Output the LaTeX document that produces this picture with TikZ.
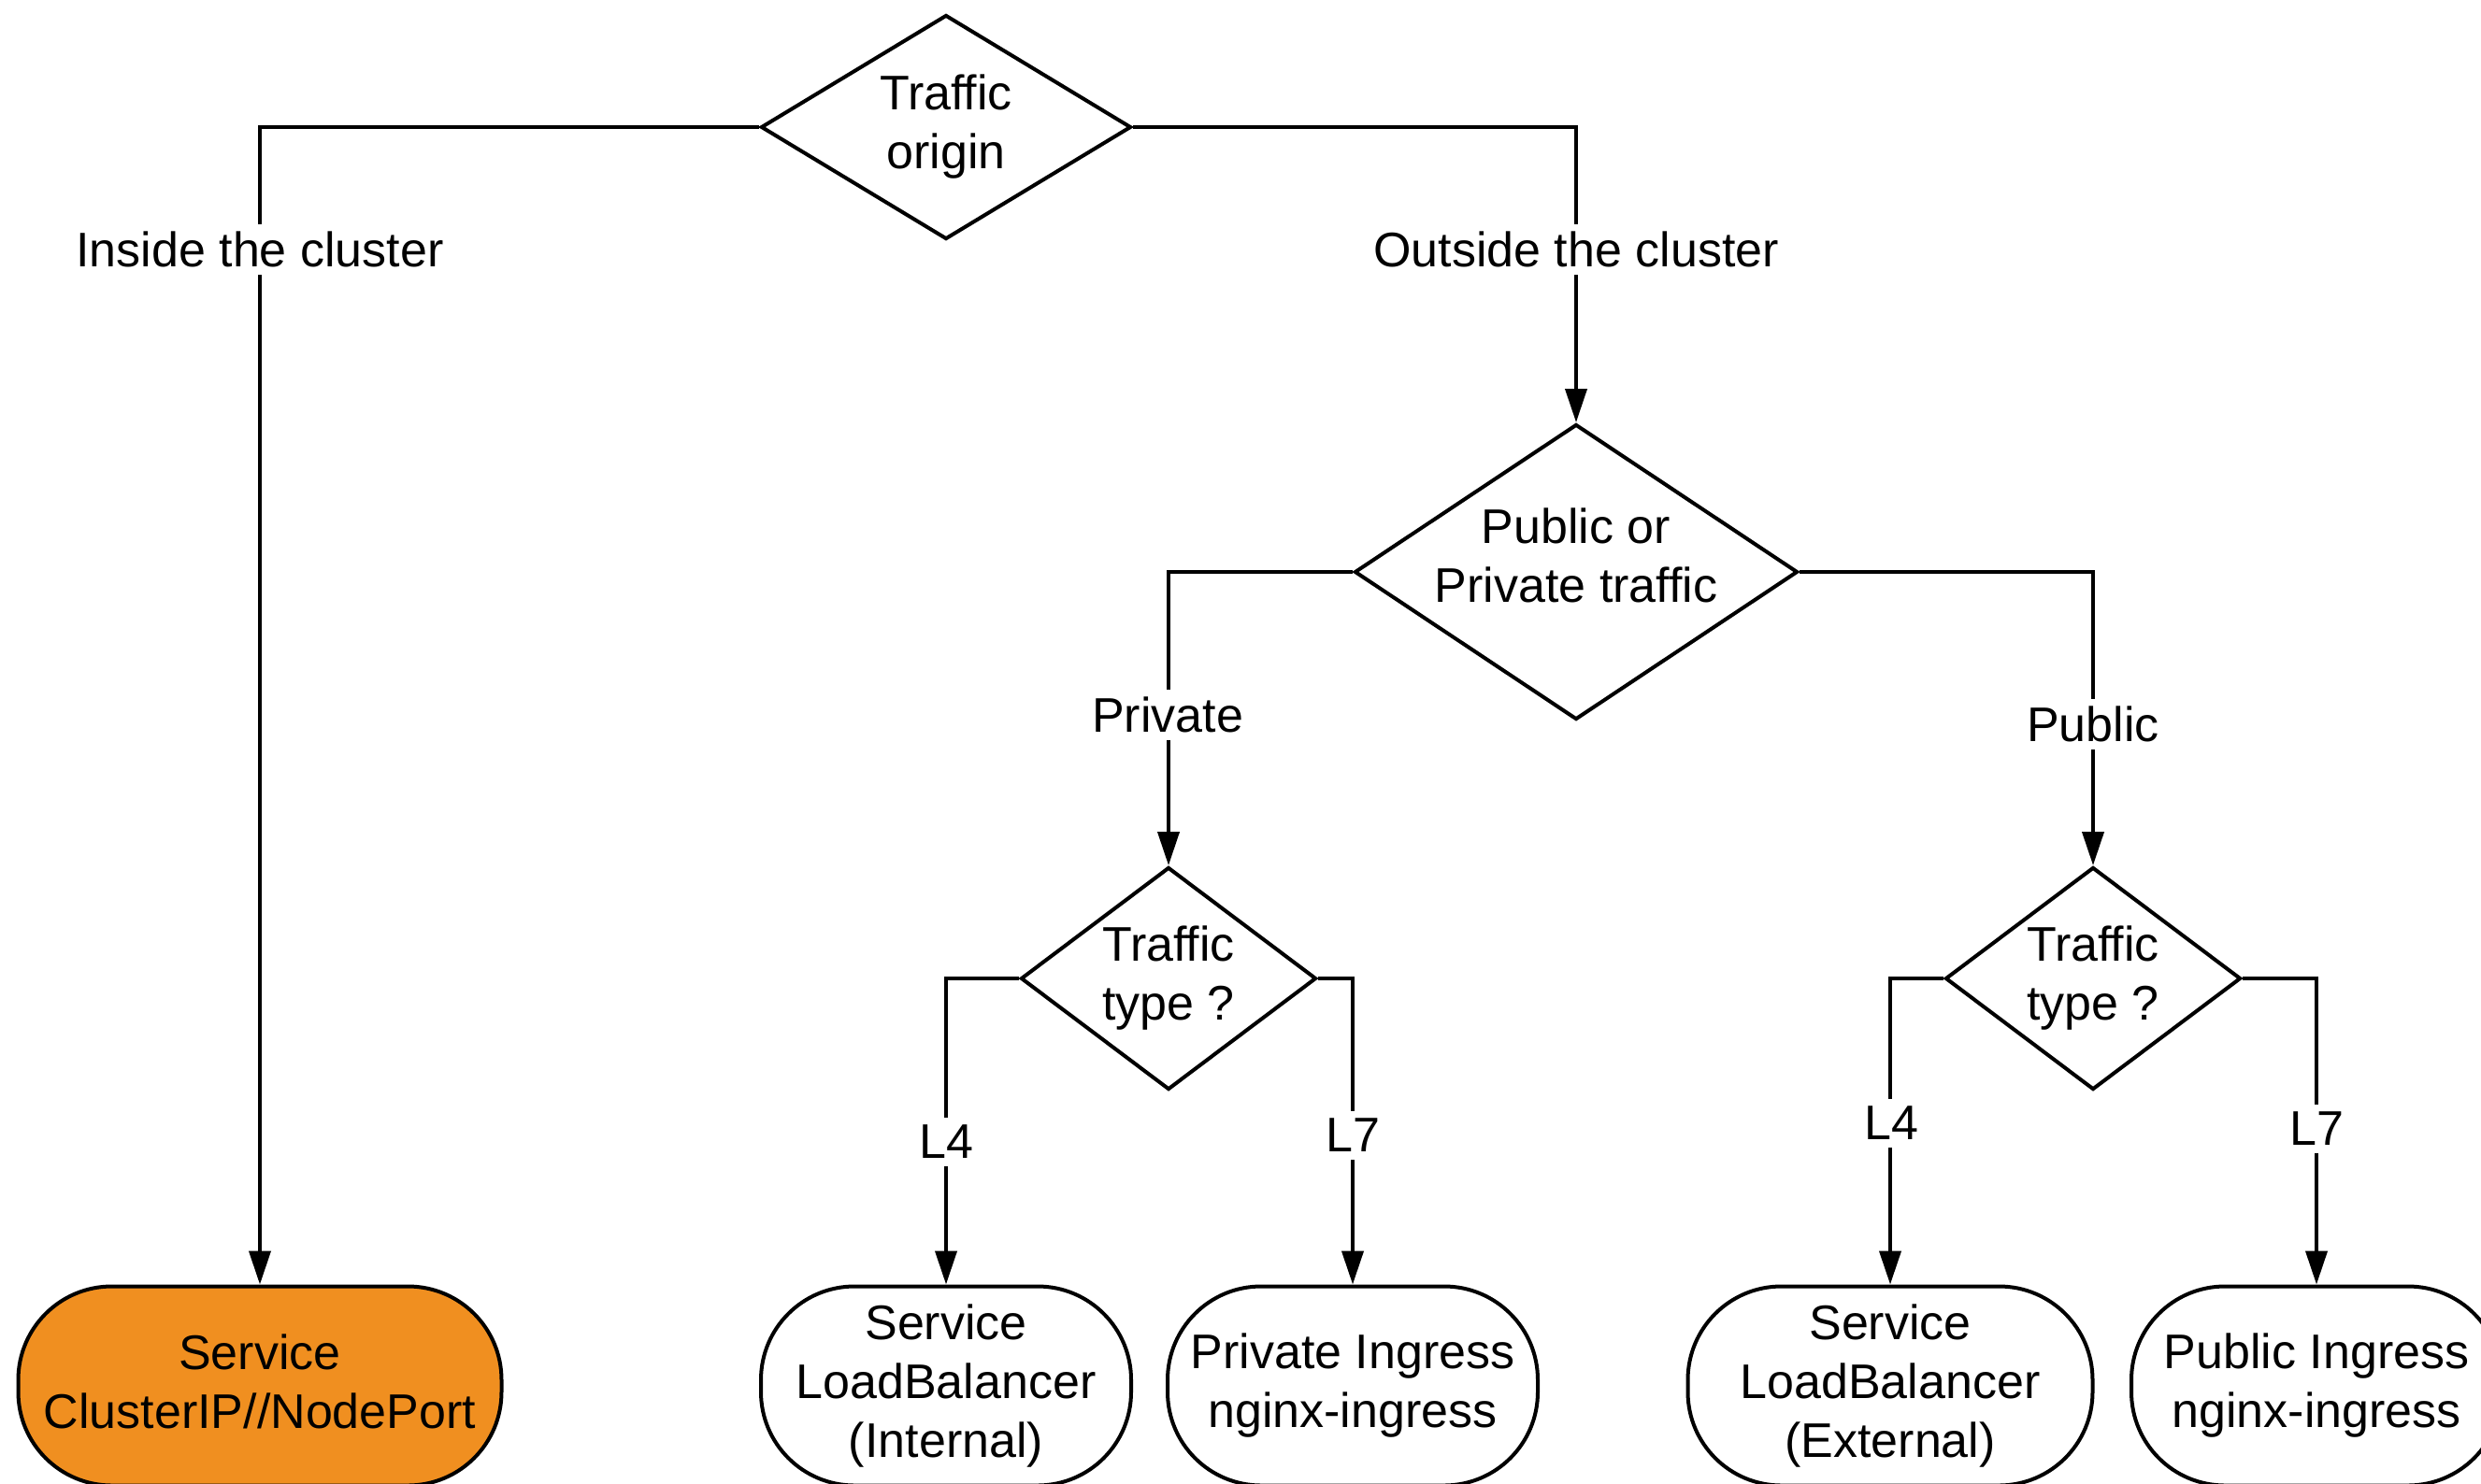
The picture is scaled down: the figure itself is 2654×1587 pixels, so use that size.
\documentclass[tikz,border=0pt]{standalone}
\usepackage{fontspec}
\setmainfont{Liberation Sans}
\usetikzlibrary{shapes.geometric,arrows.meta}
\definecolor{svcorange}{RGB}{240,143,32}
\begin{document}
\begin{tikzpicture}[x=0.5pt,y=-0.5pt,
  every node/.style={font=\fontsize{26}{31.5}\selectfont, align=center},
  decision/.style={diamond, draw, line width=2pt, inner sep=-10pt, fill=white},
  terminal/.style={rectangle, rounded corners=50pt, draw, line width=2pt,
    minimum height=106.5pt, inner sep=0pt, fill=white},
  flow/.style={draw, line width=2pt, -{Triangle[length=18pt,width=11.5pt]}},
  branch/.style={fill=white, inner sep=4pt}
]
% page frame
\useasboundingbox (0,0) rectangle (2654,1587);
\clip (0,0) rectangle (2654,1587);
\fill[white] (0,0) rectangle (2654,1587);

% decisions
\node[decision, aspect=1.65, minimum width=198pt, minimum height=120pt] (origin) at (1012,136) {Traffic\\origin};
\node[decision, aspect=1.5, minimum width=237pt, minimum height=158pt, text depth=18pt] (scope) at (1686,612) {Public or\\Private traffic};
\node[decision, aspect=1.33, minimum width=158pt, minimum height=119pt] (privtype) at (1250,1047) {Traffic\\type ?};
\node[decision, aspect=1.33, minimum width=158pt, minimum height=119pt] (pubtype) at (2239,1047) {Traffic\\type ?};

% outcomes
\node[terminal, fill=svcorange, minimum width=258.5pt, text depth=5pt] (clusterip) at (278,1483) {Service\\ClusterIP//NodePort};
\node[terminal, minimum width=198pt] (lbint) at (1012,1483) {Service\\LoadBalancer\\(Internal)};
\node[terminal, minimum width=198pt] (ingpriv) at (1447,1483) {Private Ingress\\nginx-ingress};
\node[terminal, minimum width=216.5pt] (lbext) at (2022,1483) {Service\\LoadBalancer\\(External)};
\node[terminal, minimum width=198pt] (ingpub) at (2478,1483) {Public Ingress\\nginx-ingress};

% connectors
\draw[flow] (origin.west) -| (clusterip.north);
\draw[flow] (origin.east) -| (scope.north);
\draw[flow] (scope.west) -| (privtype.north);
\draw[flow] (scope.east) -| (pubtype.north);
\draw[flow] (privtype.west) -| (lbint.north);
\draw[flow] (privtype.east) -| (ingpriv.north);
\draw[flow] (pubtype.west) -| (lbext.north);
\draw[flow] (pubtype.east) -| (ingpub.north);

% branch labels
\node[branch] (inside) at (278,267) {Inside the cluster};
\node[branch] (outside) at (1686,267) {Outside the cluster};
\node[branch] (private) at (1249,765) {Private};
\node[branch] (public) at (2239,775) {Public};
\node[branch] (l4a) at (1012,1222) {L4};
\node[branch] (l7a) at (1447,1215) {L7};
\node[branch] (l4b) at (2023,1202) {L4};
\node[branch] (l7b) at (2478,1208) {L7};
\end{tikzpicture}
\end{document}
